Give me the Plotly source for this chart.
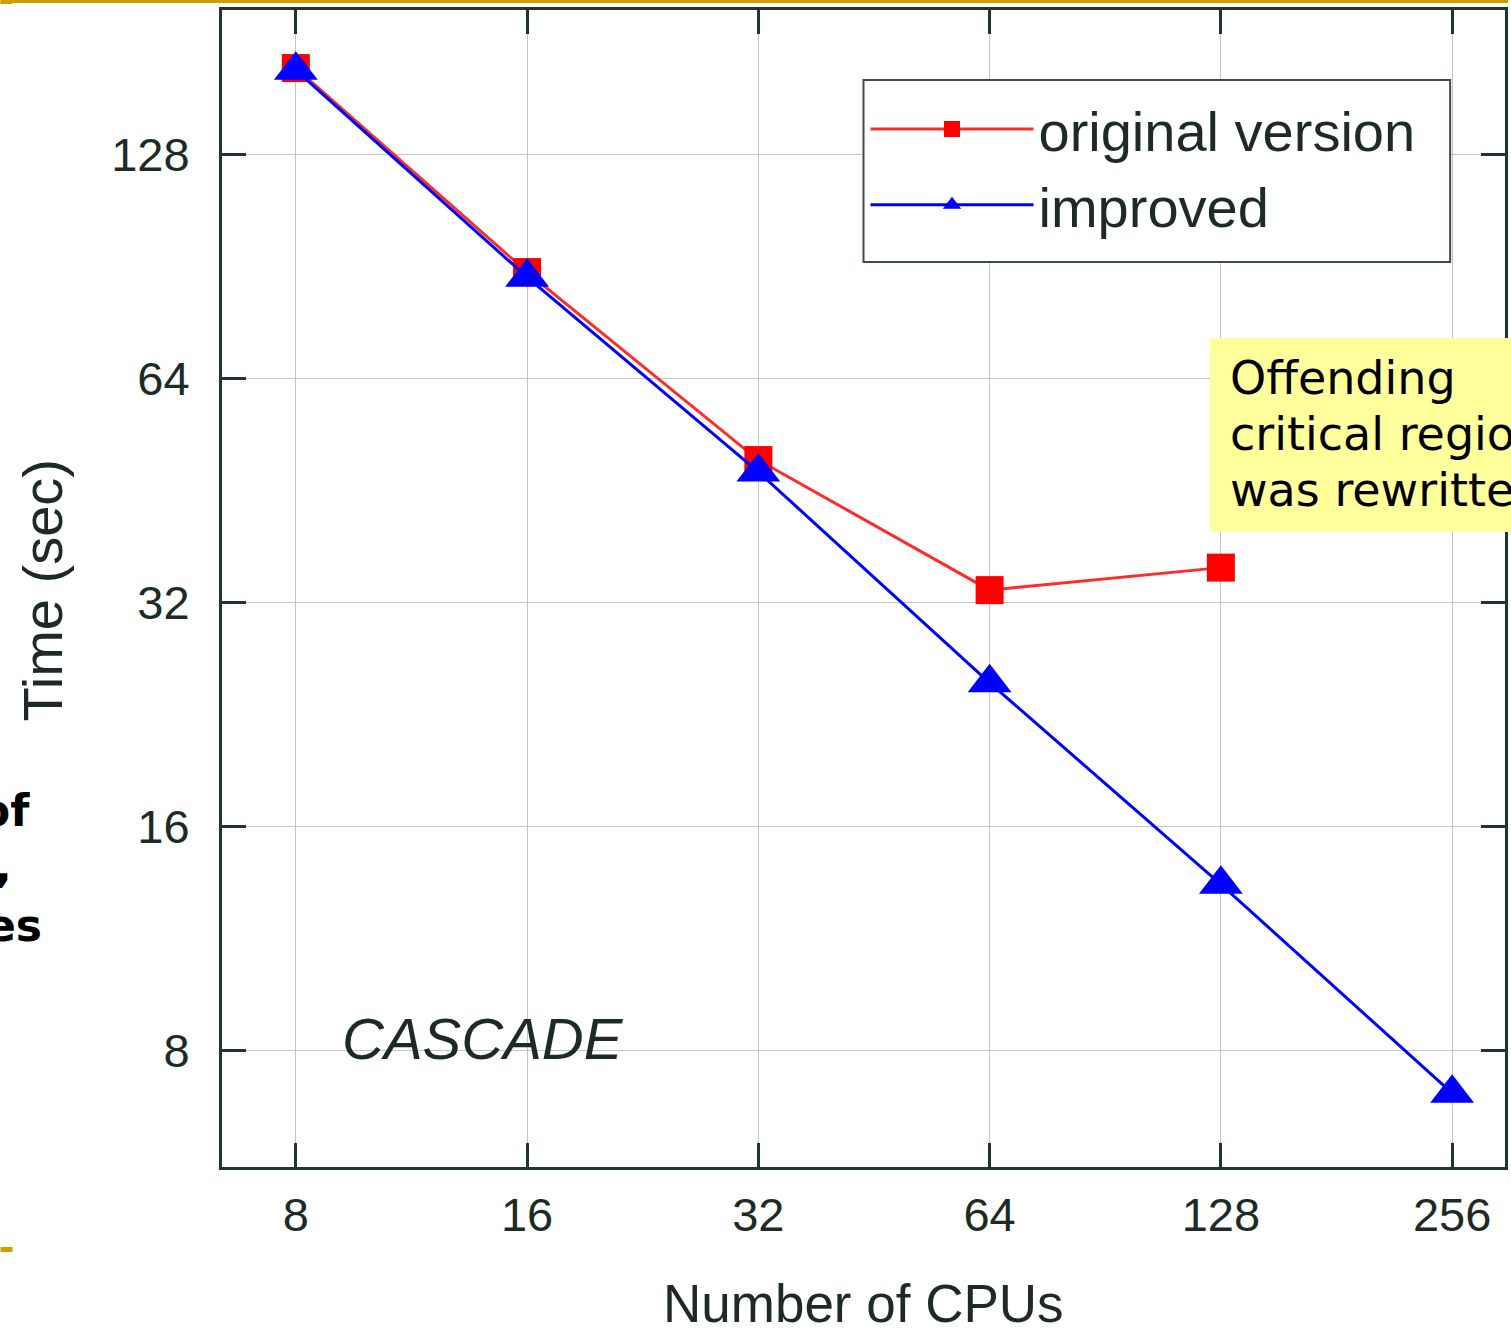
import math
import plotly.graph_objects as go

# ---- data ----
original_cpus = [8, 16, 32, 64, 128]
original_time = [167.5, 89.1, 49.8, 33.3, 35.7]
improved_cpus = [8, 16, 32, 64, 128, 256]
improved_time = [166.4, 87.7, 48.0, 25.0, 13.4, 7.02]
y_ticks = [8, 16, 32, 64, 128]
x_ticks = [8, 16, 32, 64, 128, 256]

# ---- layout geometry (pixels) ----
W, H = 1511, 1340
L, R, T, B = 222, 1508, 10, 1167
PW, PH = R - L, B - T


def xp(px):
    return (px - L) / PW


def yp(py):
    return (B - py) / PH


FONT = "Liberation Sans, Arial, Helvetica, sans-serif"
AXC = "#1e3530"
TXT = "#1d2a26"
GOLD = "#cf9f00"

fig = go.Figure()
fig.add_trace(go.Scatter(
    x=original_cpus, y=original_time, name="original version",
    mode="lines+markers",
    line=dict(color="#ff2a2a", width=3),
    marker=dict(symbol="square", size=28, color="#ff0000", line=dict(width=0)),
))
fig.add_trace(go.Scatter(
    x=improved_cpus, y=improved_time, name="improved",
    mode="lines+markers",
    line=dict(color="#0000ff", width=3),
    marker=dict(symbol="triangle-up", size=38, color="#0000ff", line=dict(width=0)),
))

xr = [math.log10(2 ** 2.6808), math.log10(2 ** 8.2286)]
yr = [math.log10(2 ** 2.4821), math.log10(2 ** 7.6473)]

axis_common = dict(
    showline=True, linecolor=AXC, linewidth=3, mirror="ticks",
    ticks="inside", ticklen=24, tickwidth=3, tickcolor=AXC,
    showgrid=True, gridcolor="#c4c4c4", gridwidth=1,
    zeroline=False,
    tickfont=dict(family=FONT, size=47, color=TXT),
)

fig.update_xaxes(type="log", range=xr, tickvals=x_ticks,
                 ticktext=[str(v) for v in x_ticks],
                 ticklabelstandoff=5, **axis_common)
fig.update_yaxes(type="log", range=yr, tickvals=y_ticks,
                 ticktext=[str(v) for v in y_ticks],
                 ticklabelstandoff=20, **axis_common)

annotations = [
    dict(text="Number of CPUs", x=xp(865), y=yp(1303), xref="paper", yref="paper",
         showarrow=False, xanchor="center", yanchor="middle",
         font=dict(family=FONT, size=53, color=TXT)),
    dict(text="Time (sec)", x=xp(42), y=yp(590), xref="paper", yref="paper",
         showarrow=False, xanchor="center", yanchor="middle", textangle=-90,
         font=dict(family=FONT, size=56, color=TXT)),
    dict(text="<i>CASCADE</i>", x=xp(340), y=yp(1038), xref="paper", yref="paper",
         showarrow=False, xanchor="left", yanchor="middle",
         font=dict(family=FONT, size=58, color=TXT)),
]

# yellow callout (cut by the right edge, as in the reference)
callout_lines = ["Offending", "critical region", "was rewritten"]
callout_y = [378, 434, 490]
for t, cy in zip(callout_lines, callout_y):
    annotations.append(dict(
        text=t, x=xp(1230), y=yp(cy), xref="paper", yref="paper",
        showarrow=False, xanchor="left", yanchor="middle",
        font=dict(family="DejaVu Sans, sans-serif", size=46, color="#000000")))

# partial slide text on the left edge
left_bits = [("of", 32, 810), (",", 14, 866), ("es", 44, 925)]
for t, rx, cy in left_bits:
    annotations.append(dict(
        text="<b>" + t + "</b>", x=xp(rx), y=yp(cy), xref="paper", yref="paper",
        showarrow=False, xanchor="right", yanchor="middle",
        font=dict(family="DejaVu Sans, sans-serif", size=44, color="#000000")))

shapes = [
    # legend frame
    dict(type="rect", xref="paper", yref="paper", x0=xp(865), x1=xp(1453),
         y0=yp(262), y1=yp(80), fillcolor="white",
         line=dict(color="#3c4d47", width=2), layer="above"),
    # yellow box
    dict(type="rect", xref="paper", yref="paper", x0=xp(1212), x1=xp(1540),
         y0=yp(532), y1=yp(338), fillcolor="#ffff9c", line=dict(width=0), layer="above"),
    # gold slide rules
    dict(type="rect", xref="paper", yref="paper", x0=xp(0), x1=xp(1511),
         y0=yp(3), y1=yp(0), fillcolor=GOLD, line=dict(width=0)),
    dict(type="rect", xref="paper", yref="paper", x0=xp(0), x1=xp(12),
         y0=yp(4), y1=yp(0), fillcolor=GOLD, line=dict(width=0)),
    dict(type="rect", xref="paper", yref="paper", x0=xp(0), x1=xp(12),
         y0=yp(1252), y1=yp(1247), fillcolor=GOLD, line=dict(width=0)),
]

fig.update_layout(
    width=W, height=H,
    margin=dict(l=L, r=W - R, t=T, b=H - B, pad=0),
    paper_bgcolor="white", plot_bgcolor="white",
    showlegend=True,
    legend=dict(
        x=xp(867), y=yp(86), xanchor="left", yanchor="top",
        bgcolor="rgba(0,0,0,0)", borderwidth=0,
        font=dict(family=FONT, size=56, color=TXT),
        itemwidth=163, tracegroupgap=0,
    ),
    annotations=annotations,
    shapes=shapes,
)

fig.write_html("out.html")
